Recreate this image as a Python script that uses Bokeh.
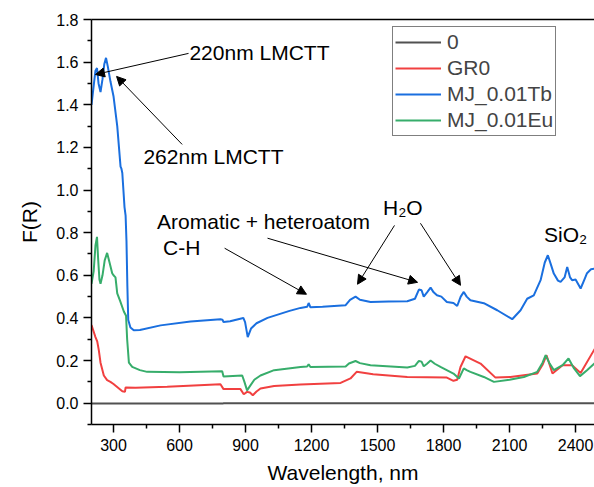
from bokeh.plotting import figure
from bokeh.models import (LinearAxis, FixedTicker, NumeralTickFormatter, Label,
                          Arrow, NormalHead, Range1d, Legend)
from bokeh.embed import file_html
from bokeh.resources import INLINE

# ---------------- data ----------------
wl_0 = [200, 500, 798, 800, 1200, 1600, 2000, 2400, 2490]
fr_0 = [-0.002, -0.002, -0.002, 0.0, 0.0, 0.0, 0.0, 0.0, 0.0]

wl_gr0 = [200, 210, 218, 226, 233, 241, 256, 271, 286, 300, 340, 352, 355, 400, 544,
          786, 800, 877, 892, 907, 920, 933, 950, 968, 1030, 1150, 1332, 1377, 1405,
          1480, 1635, 1815, 1845, 1862, 1877, 1900, 1968, 2036, 2104, 2226, 2250,
          2268, 2295, 2341, 2384, 2423, 2490]
fr_gr0 = [0.366, 0.335, 0.31, 0.29, 0.25, 0.19, 0.13, 0.108, 0.10, 0.09, 0.056, 0.053,
          0.074, 0.072, 0.077, 0.089, 0.066, 0.066, 0.042, 0.053, 0.05, 0.037, 0.055,
          0.069, 0.081, 0.088, 0.095, 0.116, 0.147, 0.136, 0.123, 0.12, 0.105, 0.11,
          0.17, 0.22, 0.186, 0.12, 0.123, 0.139, 0.18, 0.225, 0.139, 0.178, 0.178,
          0.142, 0.26]

wl_tb = [200, 210, 218, 225, 232, 241, 250, 258, 266, 274, 286, 300, 317, 332, 336,
         340, 345, 350, 355, 359, 363, 367, 377, 392, 420, 514, 650, 786, 795, 800,
         830, 890, 898, 910, 925, 950, 1000, 1100, 1150, 1180, 1187, 1195, 1250,
         1355, 1375, 1400, 1420, 1468, 1550, 1635, 1670, 1688, 1700, 1710, 1725,
         1741, 1755, 1770, 1790, 1815, 1845, 1862, 1878, 1892, 1905, 1922, 1983,
         2044, 2112, 2150, 2180, 2210, 2241, 2260, 2274, 2288, 2301, 2320, 2332,
         2350, 2362, 2375, 2384, 2400, 2423, 2440, 2452, 2470, 2490]
fr_tb = [1.40, 1.49, 1.56, 1.572, 1.50, 1.46, 1.52, 1.59, 1.62, 1.58, 1.51, 1.44, 1.30,
         1.11, 1.10, 1.08, 1.00, 0.92, 0.88, 0.76, 0.55, 0.39, 0.355, 0.342, 0.343,
         0.365, 0.383, 0.394, 0.392, 0.381, 0.384, 0.40, 0.38, 0.31, 0.35, 0.375,
         0.40, 0.433, 0.447, 0.452, 0.47, 0.45, 0.452, 0.46, 0.485, 0.50, 0.485,
         0.475, 0.477, 0.478, 0.49, 0.533, 0.53, 0.50, 0.52, 0.542, 0.52, 0.506,
         0.50, 0.475, 0.47, 0.456, 0.50, 0.522, 0.50, 0.483, 0.469, 0.436, 0.394,
         0.436, 0.49, 0.506, 0.577, 0.66, 0.694, 0.65, 0.608, 0.575, 0.569, 0.59,
         0.639, 0.59, 0.577, 0.58, 0.538, 0.58, 0.61, 0.628, 0.632]

wl_eu = [200, 210, 218, 225, 230, 236, 241, 250, 260, 271, 282, 294, 300, 309, 317,
         330, 347, 357, 362, 370, 385, 420, 453, 600, 794, 800, 885, 895, 907, 920,
         940, 968, 1030, 1150, 1180, 1187, 1195, 1355, 1370, 1400, 1420, 1468, 1635,
         1670, 1688, 1700, 1710, 1725, 1741, 1760, 1786, 1845, 1870, 1892, 1905,
         1922, 1983, 2029, 2100, 2165, 2226, 2250, 2264, 2280, 2301, 2341, 2368,
         2393, 2420, 2452, 2490]
fr_eu = [0.56, 0.62, 0.74, 0.78, 0.68, 0.58, 0.56, 0.60, 0.67, 0.705, 0.66, 0.61, 0.60,
         0.59, 0.515, 0.48, 0.43, 0.41, 0.30, 0.19, 0.17, 0.155, 0.147, 0.145, 0.15,
         0.125, 0.13, 0.10, 0.06, 0.08, 0.11, 0.13, 0.155, 0.17, 0.172, 0.183, 0.17,
         0.172, 0.186, 0.198, 0.188, 0.178, 0.167, 0.175, 0.198, 0.195, 0.173, 0.185,
         0.20, 0.185, 0.17, 0.139, 0.116, 0.163, 0.155, 0.147, 0.123, 0.10, 0.11,
         0.123, 0.147, 0.19, 0.225, 0.19, 0.155, 0.178, 0.21, 0.163, 0.127, 0.155,
         0.19]

series_names = ["0", "GR0", "MJ_0.01Tb", "MJ_0.01Eu"]
x_ticks = [300, 600, 900, 1200, 1500, 1800, 2100, 2400]
x_minor = [150, 450, 750, 1050, 1350, 1650, 1950, 2250]
y_ticks = [0.0, 0.2, 0.4, 0.6, 0.8, 1.0, 1.2, 1.4, 1.6, 1.8]
y_minor = [-0.1, 0.1, 0.3, 0.5, 0.7, 0.9, 1.1, 1.3, 1.5, 1.7]

# ---------------- style ----------------
FONT = "Liberation Sans"
colors = ["#515151", "#F14040", "#1A6FDF", "#37AD6B"]

p = figure(width=594, height=487, output_backend="svg", toolbar_location=None,
           x_range=Range1d(200, 2486), y_range=Range1d(-0.1, 1.8),
           min_border_left=91, min_border_right=0, min_border_top=19,
           min_border_bottom=63)
p.xgrid.visible = False
p.ygrid.visible = False
p.outline_line_color = None
p.background_fill_color = "white"
p.border_fill_color = "white"

renderers = []
for wl, fr, c in zip([wl_0, wl_gr0, wl_tb, wl_eu], [fr_0, fr_gr0, fr_tb, fr_eu], colors):
    renderers.append(p.line(wl, fr, line_color=c, line_width=2))

for ax in (p.xaxis[0], p.yaxis[0]):
    ax.axis_line_width = 1.5
    ax.major_tick_line_width = 1.5
    ax.minor_tick_line_width = 1.5
    ax.major_tick_out = 8
    ax.major_tick_in = 0
    ax.minor_tick_out = 4
    ax.minor_tick_in = 0
    ax.major_label_text_font = FONT
    ax.major_label_text_font_size = "16px"
    ax.major_label_text_color = "black"
    ax.axis_label_text_font = FONT
    ax.axis_label_text_font_size = "21px"
    ax.axis_label_text_font_style = "normal"
    ax.axis_label_text_color = "black"

p.xaxis.ticker = FixedTicker(ticks=x_ticks, minor_ticks=x_minor)
p.yaxis.ticker = FixedTicker(ticks=y_ticks, minor_ticks=y_minor)
p.yaxis.formatter = NumeralTickFormatter(format="0.0")
p.xaxis.axis_label = "Wavelength, nm"
p.yaxis.axis_label = "F(R)"
p.xaxis.major_label_standoff = 6
p.yaxis.major_label_standoff = 5
p.xaxis.axis_label_standoff = 7
p.yaxis.axis_label_standoff = 12

top = LinearAxis(ticker=FixedTicker(ticks=[]), major_tick_out=0, major_tick_in=0,
                 minor_tick_out=0, minor_tick_in=0, major_label_text_font_size="0px",
                 axis_line_width=1.5)
p.add_layout(top, "above")

legend = Legend(items=[(n, [r]) for n, r in zip(series_names, renderers)],
                location=(301, 288), label_text_font=FONT, label_text_font_size="21px",
                label_height=26, glyph_height=26, glyph_width=46, spacing=0,
                padding=2, margin=0, label_standoff=6, border_line_color="black",
                border_line_width=1, background_fill_alpha=1.0)
p.add_layout(legend, "center")

# ---------------- annotations ----------------
def label(x, y, t):
    p.add_layout(Label(x=x, y=y, text=t, text_font=FONT, text_font_size="21px",
                       text_baseline="middle", text_align="left", text_color="black"))

label(645, 1.646, "220nm LMCTT")
label(436, 1.156, "262nm LMCTT")
label(498, 0.853, "Aromatic + heteroatom")
label(525, 0.731, "C-H")
label(1525, 0.917, "H₂O")
label(2257, 0.79, "SiO₂")

arrows = [((641, 1.641), (218, 1.542)),
          ((612, 1.214), (314, 1.533)),
          ((805, 0.727), (1177, 0.511)),
          ((1000, 0.774), (1682, 0.567)),
          ((1577, 0.834), (1409, 0.558)),
          ((1695, 0.844), (1877, 0.553))]
for (xs, ys), (xe, ye) in arrows:
    p.add_layout(Arrow(x_start=xs, y_start=ys, x_end=xe, y_end=ye, line_width=1,
                       line_color="black",
                       end=NormalHead(size=9, fill_color="black", line_color="black",
                                      line_width=1)))

open("out.html", "w").write(file_html(p, INLINE))
